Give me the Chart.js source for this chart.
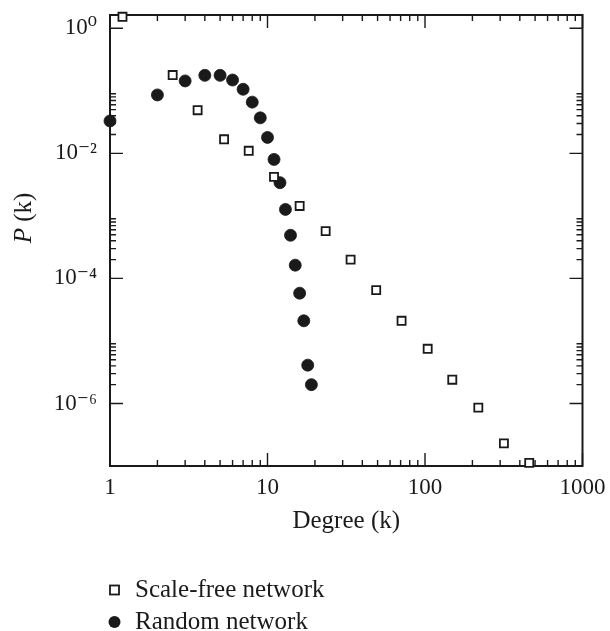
<!DOCTYPE html>
<html>
<head>
<meta charset="utf-8">
<script src="https://cdn.jsdelivr.net/npm/chart.js@4"></script>
<style>
  body { margin: 0; background: #fff; }
  #wrap { width: 610px; height: 631px; }
</style>
</head>
<body>
<div id="wrap"><canvas id="degreeChart"></canvas></div>
<script>
// Scale-free network (open squares)
const sfDegree = [1.2, 2.5, 3.6, 5.3, 7.6, 11, 16, 23.4, 33.7, 49, 71, 104, 149, 218, 317, 459];
const sfProb = [1.53, 0.179, 0.049, 0.0168, 0.011, 0.0042, 0.00144, 5.7e-4, 2.0e-4, 6.5e-5, 2.1e-5, 7.5e-6, 2.4e-6, 8.6e-7, 2.3e-7, 1.12e-7];

// Random network (filled circles)
const rnDegree = [1, 2, 3, 4, 5, 6, 7, 8, 9, 10, 11, 12, 13, 14, 15, 16, 17, 18, 19];
const rnProb = [0.033, 0.086, 0.144, 0.177, 0.177, 0.149, 0.106, 0.066, 0.037, 0.018, 0.008, 0.0034, 0.00127, 4.9e-4, 1.63e-4, 5.8e-5, 2.1e-5, 4.1e-6, 2.0e-6];

// Axis ticks
const xTicks = [1, 10, 100, 1000];
const xTickLabels = ['1', '10', '100', '1000'];
const yTicks = [1, 1e-2, 1e-4, 1e-6];
const yTickLabels = ['10\u2070', '10\u207B\u00B2', '10\u207B\u2074', '10\u207B\u2076'];

const serif = '"Liberation Serif", "DejaVu Serif", serif';
const ink = '#1a1a1a';

function toPoints(xs, ys) {
    return xs.map((x, i) => ({ x: x, y: ys[i] }));
}

// drop the label overhang padding so the plot box sits where we want it
function noOverhang(s) {
    s.paddingTop = 0;
    s.paddingBottom = 0;
    s.paddingLeft = 0;
    s.paddingRight = 0;
}

// Frame with inward ticks on all four sides
const framePlugin = {
    id: 'frame',
    beforeDatasetsDraw(chart) {
        const { ctx, chartArea: a, scales: { x, y } } = chart;
        ctx.save();
        ctx.strokeStyle = ink;
        ctx.lineWidth = 2;
        ctx.strokeRect(a.left, a.top, a.right - a.left, a.bottom - a.top);
        ctx.lineWidth = 1.4;
        ctx.beginPath();
        // x ticks, every decade with minors 2..9
        for (let d = 1; d <= 1000; d *= 10) {
            for (let m = 1; m <= 9; m++) {
                const v = d * m;
                if (v > 1000) break;
                const px = x.getPixelForValue(v);
                const len = m === 1 ? 13 : 6;
                ctx.moveTo(px, a.bottom); ctx.lineTo(px, a.bottom - len);
                ctx.moveTo(px, a.top); ctx.lineTo(px, a.top + len);
            }
        }
        // y ticks: majors every 2 decades, minors only in the decade above
        yTicks.forEach(v => {
            for (let m = 1; m <= 9; m++) {
                if (m > 1 && v === 1) break;
                const py = y.getPixelForValue(v * m);
                const len = m === 1 ? 13 : 6;
                ctx.moveTo(a.left, py); ctx.lineTo(a.left + len, py);
                ctx.moveTo(a.right, py); ctx.lineTo(a.right - len, py);
            }
        });
        ctx.stroke();
        ctx.restore();
    }
};

// Y title with italic P, and the stacked legend below the plot
const textPlugin = {
    id: 'texts',
    afterDraw(chart) {
        const { ctx } = chart;
        ctx.save();
        ctx.fillStyle = ink;
        ctx.textBaseline = 'middle';

        ctx.translate(24, 218);
        ctx.rotate(-Math.PI / 2);
        const italic = 'italic 25px ' + serif;
        const normal = '25px ' + serif;
        ctx.font = italic;
        const wP = ctx.measureText('P').width;
        ctx.font = normal;
        const wRest = ctx.measureText(' (k)').width;
        const start = -(wP + wRest) / 2;
        ctx.font = italic;
        ctx.textAlign = 'left';
        ctx.fillText('P', start, 0);
        ctx.font = normal;
        ctx.fillText(' (k)', start + wP, 0);
        ctx.setTransform(1, 0, 0, 1, 0, 0);

        const rows = [590, 622];
        chart.data.datasets.forEach((ds, i) => {
            const cy = rows[i];
            const cx = 114.5;
            ctx.lineWidth = 1.8;
            ctx.strokeStyle = ink;
            if (ds.pointStyle === 'rect') {
                ctx.fillStyle = '#fff';
                ctx.fillRect(cx - 4.5, cy - 4.5, 9, 9);
                ctx.strokeRect(cx - 4.5, cy - 4.5, 9, 9);
            } else {
                ctx.fillStyle = ink;
                ctx.beginPath();
                ctx.arc(cx, cy, 6, 0, Math.PI * 2);
                ctx.fill();
            }
            ctx.fillStyle = ink;
            ctx.font = '25px ' + serif;
            ctx.textAlign = 'left';
            ctx.fillText(ds.label, 135, cy);
        });
        ctx.restore();
    }
};

new Chart(document.getElementById('degreeChart'), {
    type: 'scatter',
    data: {
        datasets: [
            {
                label: 'Scale-free network',
                data: toPoints(sfDegree, sfProb),
                pointStyle: 'rect',
                pointRadius: 5.7,
                borderWidth: 1.8,
                borderColor: ink,
                backgroundColor: '#fff',
                clip: false
            },
            {
                label: 'Random network',
                data: toPoints(rnDegree, rnProb),
                pointStyle: 'circle',
                pointRadius: 6,
                borderWidth: 0.8,
                borderColor: ink,
                backgroundColor: ink,
                clip: false
            }
        ]
    },
    options: {
        responsive: true,
        maintainAspectRatio: false,
        animation: false,
        layout: { padding: { top: 15, right: 27.5, left: 0, bottom: 89 } },
        plugins: {
            legend: { display: false },
            tooltip: { enabled: false }
        },
        scales: {
            x: {
                type: 'logarithmic',
                min: 1,
                max: 1000,
                grid: { display: false, drawTicks: false },
                border: { display: false },
                afterBuildTicks: s => { s.ticks = xTicks.map(v => ({ value: v })); },
                afterFit: s => { s.height = 76; noOverhang(s); },
                ticks: {
                    autoSkip: false,
                    maxRotation: 0,
                    padding: 8,
                    color: ink,
                    font: { family: serif, size: 23 },
                    callback: (v, i) => xTickLabels[i]
                },
                title: {
                    display: true,
                    text: 'Degree (k)',
                    color: ink,
                    font: { family: serif, size: 25 },
                    padding: { top: 0, bottom: 5.6 }
                }
            },
            y: {
                type: 'logarithmic',
                min: 1e-7,
                max: 1.633,
                grid: { display: false, drawTicks: false },
                border: { display: false },
                afterBuildTicks: s => { s.ticks = yTicks.map(v => ({ value: v })); },
                afterFit: s => { s.width = 110; noOverhang(s); },
                ticks: {
                    autoSkip: false,
                    padding: 13,
                    color: ink,
                    font: { family: serif, size: 23 },
                    callback: (v, i) => yTickLabels[i]
                }
            }
        }
    },
    plugins: [framePlugin, textPlugin]
});
</script>
</body>
</html>
